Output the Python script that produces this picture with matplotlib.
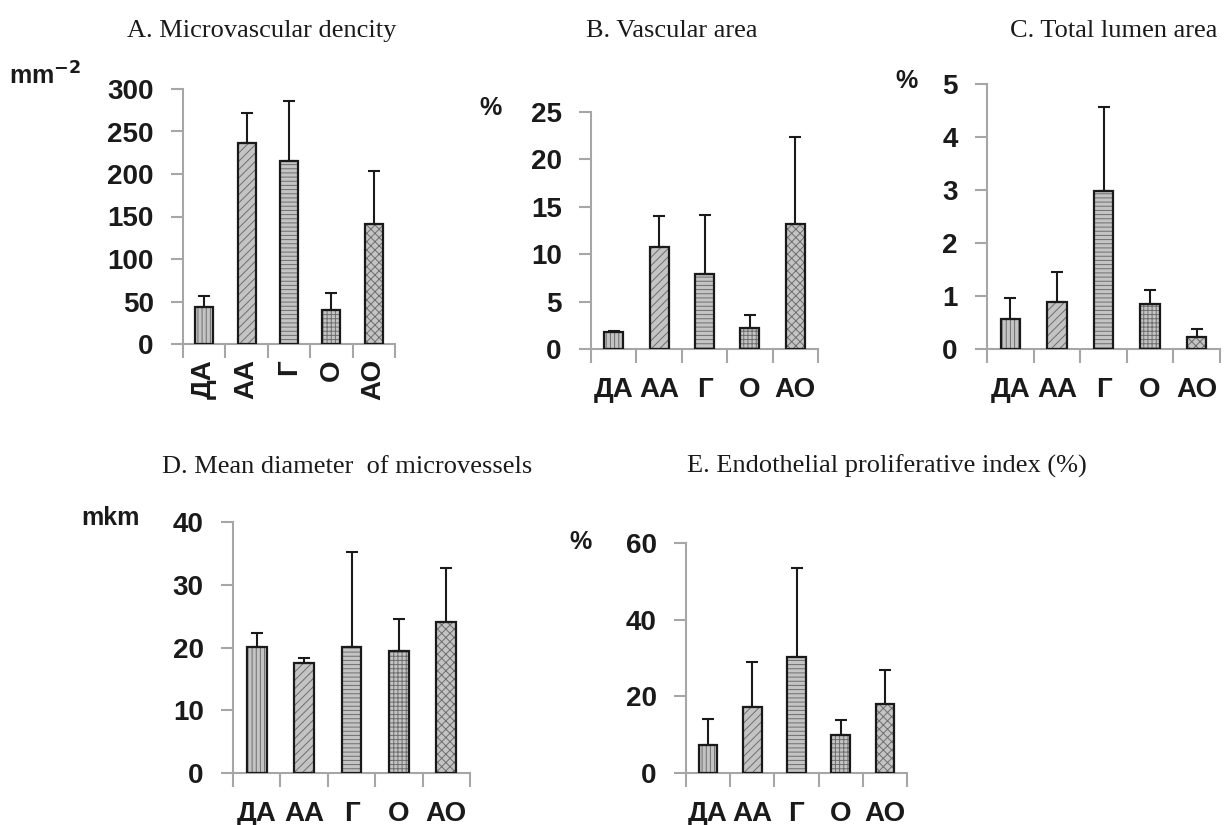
import matplotlib
matplotlib.use('Agg')
import matplotlib.pyplot as plt
import numpy as np

plt.rcParams['font.family'] = ['Liberation Sans', 'DejaVu Sans']
plt.rcParams['hatch.linewidth'] = 0.7

# data
groups = ['ДА', 'АА', 'Г', 'О', 'АО']
hatches = ['||||', '////', '----', '++++', 'xxxx']

mvd_mean = [44, 237, 215, 40, 141.5]
mvd_sd = [12.5, 34.5, 70.5, 19.5, 62]

va_mean = [1.76, 10.8, 7.95, 2.2, 13.2]
va_sd = [0.15, 3.25, 6.2, 1.4, 9.2]

tla_mean = [0.56, 0.88, 2.98, 0.85, 0.23]
tla_sd = [0.40, 0.57, 1.59, 0.26, 0.15]

diam_mean = [20.1, 17.6, 20.1, 19.4, 24.0]
diam_sd = [2.2, 0.7, 15.1, 5.1, 8.6]

epi_mean = [7.4, 17.2, 30.3, 9.9, 18.1]
epi_sd = [6.8, 11.8, 23.3, 4.0, 8.7]

W, H = 1224, 825
fig = plt.figure(figsize=(W / 100, H / 100), dpi=100)

TICK_FS = 20


def px_axes(l, t, r, b):
    return fig.add_axes([l / W, 1 - b / H, (r - l) / W, (b - t) / H])


def panel(ax, means, sds, yticks, rotate=False):
    x = np.arange(len(groups))
    for i in x:
        ax.bar(i, means[i], width=0.42, color='#c4c4c4', edgecolor='#6e6e6e',
               hatch=hatches[i], linewidth=0, zorder=2)
        ax.bar(i, means[i], width=0.42, fill=False, edgecolor='#1a1a1a',
               linewidth=1.6, zorder=3)
    ax.errorbar(x, means, yerr=[np.zeros(len(sds)), sds], fmt='none',
                ecolor='#1a1a1a', elinewidth=1.5, capsize=4.5, capthick=1.5,
                zorder=4)
    ax.set_xlim(-0.5, len(groups) - 0.5)
    ax.set_ylim(0, yticks[-1])
    ax.set_yticks(yticks)
    ax.set_yticklabels([str(t) for t in yticks], fontsize=TICK_FS,
                       fontweight='bold', color='#1a1a1a')
    ax.tick_params(axis='y', length=9, width=1.5, color='#a6a6a6', pad=12)
    ax.set_xticks(np.arange(-0.5, len(groups), 1.0))
    ax.set_xticklabels([])
    ax.tick_params(axis='x', which='major', length=10, width=1.5,
                   color='#a6a6a6', direction='out')
    ax.set_xticks(x, minor=True)
    if rotate:
        ax.set_xticklabels(groups, minor=True, rotation=90, fontsize=TICK_FS,
                           fontweight='bold', color='#1a1a1a')
        ax.tick_params(axis='x', which='minor', length=0, pad=11)
    else:
        ax.set_xticklabels(groups, minor=True, fontsize=TICK_FS,
                           fontweight='bold', color='#1a1a1a')
        ax.tick_params(axis='x', which='minor', length=0, pad=20)
    for s in ['top', 'right']:
        ax.spines[s].set_visible(False)
    for s in ['left', 'bottom']:
        ax.spines[s].set_color('#a6a6a6')
        ax.spines[s].set_linewidth(1.5)


axA = px_axes(183, 89, 395, 344)
panel(axA, mvd_mean, mvd_sd, [0, 50, 100, 150, 200, 250, 300], rotate=True)
axB = px_axes(591, 112, 818, 349)
panel(axB, va_mean, va_sd, [0, 5, 10, 15, 20, 25])
axC = px_axes(987, 84, 1220, 349)
panel(axC, tla_mean, tla_sd, [0, 1, 2, 3, 4, 5])
axD = px_axes(233, 522, 470, 773)
panel(axD, diam_mean, diam_sd, [0, 10, 20, 30, 40])
axE = px_axes(686, 543, 907, 773)
panel(axE, epi_mean, epi_sd, [0, 20, 40, 60])

# panel titles (left edge, baseline in pixels)
titles = [('A. Microvascular dencity', 127, 37),
          ('B. Vascular area', 586, 37),
          ('C. Total lumen area', 1010, 37),
          ('D. Mean diameter  of microvessels', 162, 473),
          ('E. Endothelial proliferative index (%)', 687, 473)]
for txt, xp, yp in titles:
    fig.text(xp / W, 1 - yp / H, txt, ha='left', va='baseline', fontsize=19,
             family='Liberation Serif', color='#1a1a1a')

# unit labels
units = [('mm$^{\\mathbf{-2}}$', 45, 76),
         ('%', 491, 108),
         ('%', 906, 81),
         ('mkm', 110, 518),
         ('%', 580, 542)]
for txt, xp, yp in units:
    fig.text(xp / W, 1 - yp / H, txt, ha='center', va='center', fontsize=18,
             fontweight='bold', color='#1a1a1a')

fig.savefig('out.png', dpi=100)
